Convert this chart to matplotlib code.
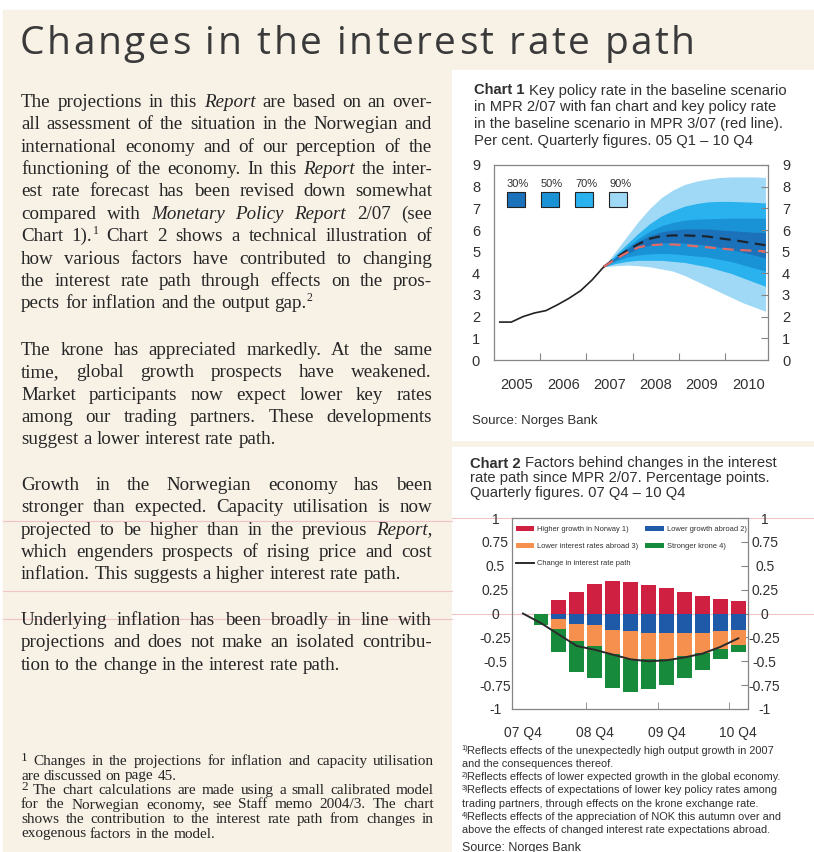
import matplotlib
matplotlib.use('Agg')
import matplotlib.pyplot as plt
import numpy as np
from matplotlib.patches import Rectangle

plt.rcParams['axes.unicode_minus'] = False
plt.rcParams['font.family'] = ['Liberation Sans', 'DejaVu Sans']

W, H = 814, 852
CREAM = '#f7f1e6'
INK = '#262626'
CINK = '#303030'
SPINE = '#858585'
PINK = '#f0c3c7'

# ---------------- page text ----------------
title = 'Changes in the interest rate path'

# '*word*' = italic, 'word^1' = superscript after word
para1 = [
    'The projections in this *Report* are based on an over-',
    'all assessment of the situation in the Norwegian and',
    'international economy and of our perception of the',
    'functioning of the economy. In this *Report* the inter-',
    'est rate forecast has been revised down somewhat',
    'compared with *Monetary* *Policy* *Report* 2/07 (see',
    'Chart 1).^1 Chart 2 shows a technical illustration of',
    'how various factors have contributed to changing',
    'the interest rate path through effects on the pros-',
    'pects for inflation and the output gap.^2',
]
para2 = [
    'The krone has appreciated markedly. At the same',
    'time, global growth prospects have weakened.',
    'Market participants now expect lower key rates',
    'among our trading partners. These developments',
    'suggest a lower interest rate path.',
]
para3 = [
    'Growth in the Norwegian economy has been',
    'stronger than expected. Capacity utilisation is now',
    'projected to be higher than in the previous *Report,*',
    'which engenders prospects of rising price and cost',
    'inflation. This suggests a higher interest rate path.',
]
para4 = [
    'Underlying inflation has been broadly in line with',
    'projections and does not make an isolated contribu-',
    'tion to the change in the interest rate path.',
]
footnotes = [
    ('1', 'Changes in the projections for inflation and capacity utilisation'),
    ('', 'are discussed on page 45.'),
    ('2', 'The chart calculations are made using a small calibrated model'),
    ('', 'for the Norwegian economy, see Staff memo 2004/3. The chart'),
    ('', 'shows the contribution to the interest rate path from changes in'),
    ('', 'exogenous factors in the model.'),
]

chart1_title = [
    'Key policy rate in the baseline scenario',
    'in MPR 2/07 with fan chart and key policy rate',
    'in the baseline scenario in MPR 3/07 (red line).',
    'Per cent. Quarterly figures. 05 Q1 \u2013 10 Q4',
]
chart2_title = [
    'Factors behind changes in the interest',
    'rate path since MPR 2/07. Percentage points.',
    'Quarterly figures. 07 Q4 \u2013 10 Q4',
]
chart2_notes = [
    ('1)', 'Reflects effects of the unexpectedly high output growth in 2007'),
    ('', 'and the consequences thereof.'),
    ('2)', 'Reflects effects of lower expected growth in the global economy.'),
    ('3)', 'Reflects effects of expectations of lower key policy rates among'),
    ('', 'trading partners, through effects on the krone exchange rate.'),
    ('4)', 'Reflects effects of the appreciation of NOK this autumn over and'),
    ('', 'above the effects of changed interest rate expectations abroad.'),
]

# ---------------- chart 1 data ----------------
hist_q = ['05 Q1', '05 Q2', '05 Q3', '05 Q4', '06 Q1', '06 Q2', '06 Q3', '06 Q4',
          '07 Q1', '07 Q2']
hist_rate = [1.75, 1.75, 2.0, 2.17, 2.28, 2.55, 2.85, 3.2, 3.7, 4.3]

fan_q = ['07 Q2', '07 Q3', '07 Q4', '08 Q1', '08 Q2', '08 Q3', '08 Q4', '09 Q1',
         '09 Q2', '09 Q3', '09 Q4', '10 Q1', '10 Q2', '10 Q3', '10 Q4']
mpr207 = [4.3, 4.7, 5.05, 5.35, 5.6, 5.72, 5.75, 5.75, 5.73, 5.7, 5.62, 5.55, 5.47, 5.38, 5.3]
mpr307 = [4.3, 4.65, 4.95, 5.2, 5.3, 5.33, 5.33, 5.3, 5.25, 5.2, 5.15, 5.1, 5.07, 5.04, 5.02]
up90 = [4.3, 5.0, 5.7, 6.4, 7.0, 7.5, 7.85, 8.1, 8.25, 8.35, 8.42, 8.45, 8.45, 8.45, 8.43]
lo90 = [4.3, 4.35, 4.38, 4.35, 4.3, 4.2, 4.1, 3.9, 3.65, 3.4, 3.15, 2.9, 2.65, 2.45, 2.25]
up70 = [4.3, 4.85, 5.35, 5.85, 6.3, 6.65, 6.9, 7.1, 7.22, 7.3, 7.32, 7.32, 7.3, 7.28, 7.25]
lo70 = [4.3, 4.45, 4.55, 4.6, 4.6, 4.6, 4.55, 4.5, 4.4, 4.3, 4.15, 4.0, 3.8, 3.6, 3.4]
up50 = [4.3, 4.75, 5.2, 5.6, 5.95, 6.2, 6.35, 6.45, 6.5, 6.52, 6.53, 6.55, 6.55, 6.55, 6.54]
lo50 = [4.3, 4.55, 4.75, 4.85, 4.9, 4.92, 4.9, 4.85, 4.8, 4.75, 4.65, 4.55, 4.4, 4.25, 4.1]
up30 = [4.3, 4.72, 5.12, 5.47, 5.75, 5.92, 6.0, 6.05, 6.05, 6.05, 6.0, 5.97, 5.93, 5.9, 5.88]
lo30 = [4.3, 4.62, 4.9, 5.15, 5.3, 5.4, 5.42, 5.4, 5.35, 5.3, 5.2, 5.1, 4.98, 4.85, 4.7]
fan_labels = ['30%', '50%', '70%', '90%']
fan_colors = ['#1b72ba', '#1a92d6', '#2ab2ee', '#a0d9f5']
years = [2005, 2006, 2007, 2008, 2009, 2010]

# ---------------- chart 2 data ----------------
q2 = ['07 Q4', '08 Q1', '08 Q2', '08 Q3', '08 Q4', '09 Q1', '09 Q2', '09 Q3',
      '09 Q4', '10 Q1', '10 Q2', '10 Q3', '10 Q4']
norway = [0, 0, 0.14, 0.23, 0.31, 0.34, 0.33, 0.30, 0.27, 0.23, 0.18, 0.15, 0.13]
abroad = [0, 0, -0.06, -0.105, -0.125, -0.17, -0.185, -0.20, -0.20, -0.20, -0.20, -0.185, -0.17]
rates = [0, 0, -0.10, -0.185, -0.215, -0.25, -0.295, -0.28, -0.28, -0.25, -0.21, -0.185, -0.165]
krone = [0, -0.12, -0.24, -0.32, -0.34, -0.36, -0.34, -0.31, -0.27, -0.23, -0.18, -0.11, -0.065]
path = [0, -0.10, -0.22, -0.34, -0.38, -0.43, -0.48, -0.50, -0.49, -0.46, -0.42, -0.35, -0.26]
yticks2 = [-1, -0.75, -0.5, -0.25, 0, 0.25, 0.5, 0.75, 1]
ylabels2 = ['-1', '-0.75', '-0.5', '-0.25', '0', '0.25', '0.5', '0.75', '1']


def qx(lbl):
    yy, q = lbl.split(' Q')
    return 2000 + int(yy) + (int(q) - 0.5) / 4


fig = plt.figure(figsize=(W / 100, H / 100), dpi=100)
fig.patch.set_facecolor('white')

# page background in pixel coordinates
bg = fig.add_axes([0, 0, 1, 1])
bg.set_xlim(0, W)
bg.set_ylim(H, 0)
bg.axis('off')
bg.add_patch(Rectangle((3, 10), W - 3, H - 10, color=CREAM, zorder=0))
bg.add_patch(Rectangle((452, 70), W - 452, 370, color='white', zorder=1))
bg.add_patch(Rectangle((452, 447), W - 452, H - 447, color='white', zorder=1))
for yy in (520.7, 590.7, 619):
    bg.plot([3, 452], [yy, yy], color=PINK, lw=0.8, zorder=2)
for yy in (518, 614):
    bg.plot([452, W], [yy, yy], color=PINK, lw=0.8, zorder=2)

renderer = fig.canvas.get_renderer()


def measure(s, **kw):
    t = bg.text(0, 0, s, **kw)
    w = t.get_window_extent(renderer).width
    t.remove()
    return w


def draw_line(line, x0, x1, y, size, justify, family='Liberation Serif', color=INK):
    base = dict(fontsize=size, family=family, color=color, zorder=5)
    sup_kw = dict(base, fontsize=size * 0.62)
    toks = []
    for raw in line.split(' '):
        italic = raw.startswith('*')
        word = raw.replace('*', '')
        sup = ''
        if '^' in word:
            word, sup = word.split('^')
        kw = dict(base, style='italic' if italic else 'normal')
        toks.append((word, sup, kw, measure(word, **kw),
                     measure(sup, **sup_kw) if sup else 0))
    space = measure('a a', **base) - measure('aa', **base)
    total = sum(t[3] + t[4] for t in toks)
    if justify and len(toks) > 1:
        gap = (x1 - x0 - total) / (len(toks) - 1)
    else:
        gap = space
    x = x0
    for word, sup, kw, w, ws in toks:
        bg.text(x, y, word, va='baseline', ha='left', **kw)
        x += w
        if sup:
            bg.text(x + 0.5, y - size * 0.55, sup, va='baseline', ha='left', **sup_kw)
            x += ws
        x += gap


def draw_para(lines, y0, step, x0=21, x1=432, size=13.7):
    for i, ln in enumerate(lines):
        draw_line(ln, x0, x1, y0 + i * step, size, justify=(i < len(lines) - 1))


# title: letter-spaced like the printed heading
tkw = dict(family='Open Sans', fontsize=28, color='#3a3a3a', zorder=5)
natural = measure(title, **tkw)
track = (675 - natural) / (len(title) - 1)
lw_ = measure('l', **tkw)
for k, ch in enumerate(title):
    if ch == ' ':
        continue
    pos = measure(title[:k] + 'l', **tkw) - lw_ if k else 0
    bg.text(20 + pos + k * track, 54, ch, va='baseline', ha='left', **tkw)

draw_para(para1, 106.7, 22.4)
draw_para(para2, 355, 22.3)
draw_para(para3, 490, 22.3)
draw_para(para4, 625, 22.3)

for i, (sup, ln) in enumerate(footnotes):
    y = 765 + i * 14.5
    last = i == len(footnotes) - 1 or footnotes[i + 1][0] != ''
    if sup:
        bg.text(21, y - 4, sup, fontsize=9.5, family='Liberation Serif', color=INK,
                va='baseline', zorder=5)
        draw_line(ln, 33, 434, y, 11.0, justify=not last)
    else:
        draw_line(ln, 21, 434, y, 11.0, justify=not last)


# chart titles
def chart_title(num, lines, x0, y0, step, size=10.6):
    bkw = dict(fontsize=size, family='Liberation Sans', color=CINK, zorder=5)
    head = 'Chart %d' % num
    bg.text(x0, y0, head, weight='bold', va='baseline', **bkw)
    wb = measure(head, weight='bold', **bkw) + measure('a a', **bkw) - measure('aa', **bkw)
    for i, ln in enumerate(lines):
        bg.text(x0 + (wb if i == 0 else 0), y0 + i * step, ln, va='baseline', **bkw)


chart_title(1, chart1_title, 474, 94.5, 16.7)
chart_title(2, chart2_title, 470.5, 467.5, 14.8)

bg.text(472, 424, 'Source: Norges Bank', fontsize=9.5, color=CINK, va='baseline', zorder=5)
for i, (sup, ln) in enumerate(chart2_notes):
    y = 753.5 + i * 13.33
    if sup:
        bg.text(461.5, y - 3.5, sup, fontsize=5.2, color=CINK, va='baseline', zorder=5)
        bg.text(467, y, ln, fontsize=7.9, color=CINK, va='baseline', zorder=5)
    else:
        bg.text(461.5, y, ln, fontsize=7.9, color=CINK, va='baseline', zorder=5)
bg.text(461.5, 850.5, 'Source: Norges Bank', fontsize=9.0, color=CINK, va='baseline', zorder=5)

# ---------------- chart 1 ----------------
ax1 = fig.add_axes([494 / W, 1 - 360 / H, (768 - 494) / W, (360 - 165) / H])
ax1.set_facecolor('white')
fx = [qx(q) for q in fan_q]
bands = [(lo90, up90), (lo70, up70), (lo50, up50), (lo30, up30)]
for (lo, up), c in zip(bands, fan_colors[::-1]):
    ax1.fill_between(fx, lo, up, color=c, lw=0, zorder=1)
ax1.plot([qx(q) for q in hist_q], hist_rate, color='#222222', lw=1.2, zorder=3)
ax1.plot(fx, mpr207, color='#1c2430', lw=1.6, ls=(0, (5, 3)), zorder=4)
ax1.plot(fx, mpr307, color='#e06a66', lw=1.6, ls=(0, (5, 3)), zorder=4)

ax1.set_xlim(2005.0, 2010.93)
ax1.set_ylim(0, 9)
ax1.set_yticks(range(10))
ax1.tick_params(axis='y', left=False, right=True, labelleft=True, labelright=True,
                direction='in', length=5, pad=10, labelsize=10.5, colors=SPINE,
                labelcolor=CINK)
ax1.set_xticks(years[1:])
ax1.set_xticklabels([])
ax1.set_xticks([y + 0.5 for y in years], minor=True)
ax1.set_xticklabels([str(y) for y in years], minor=True)
ax1.tick_params(axis='x', which='major', direction='in', length=5, colors=SPINE)
ax1.tick_params(axis='x', which='minor', length=0, pad=13, labelsize=10.5,
                labelcolor=CINK)
for s in ax1.spines.values():
    s.set_color(SPINE)
    s.set_linewidth(0.9)

# fan legend: labels above swatches
for i, (lab, c) in enumerate(zip(fan_labels, fan_colors)):
    x0 = 0.047 + i * 0.1245
    ax1.add_patch(Rectangle((x0, 0.785), 0.066, 0.077, transform=ax1.transAxes,
                            facecolor=c, edgecolor='#222222', lw=0.8, zorder=6))
    ax1.text(x0 + 0.04, 0.905, lab, transform=ax1.transAxes, ha='center', va='center',
             fontsize=8, color=CINK, zorder=6)

# ---------------- chart 2 ----------------
ax2 = fig.add_axes([512 / W, 1 - 709 / H, (748 - 512) / W, (709 - 518) / H])
ax2.set_facecolor('none')
x2 = np.arange(len(q2))
neg1 = np.array(abroad)
neg2 = neg1 + np.array(rates)
bw = 0.82
b_nor = ax2.bar(x2, norway, bw, color='#cf2042', zorder=2)
b_abr = ax2.bar(x2, abroad, bw, color='#1f5aa8', zorder=2)
b_rat = ax2.bar(x2, rates, bw, bottom=neg1, color='#f6904f', zorder=2)
b_kro = ax2.bar(x2, krone, bw, bottom=neg2, color='#188a3c', zorder=2)
ln_path, = ax2.plot(x2, path, color='#2b2b2b', lw=1.4, zorder=3)

ax2.set_xlim(-0.61, 12.54)
ax2.set_ylim(-1, 1)
ax2.set_yticks(yticks2)
ax2.set_yticklabels(ylabels2)
ax2.tick_params(axis='y', left=False, right=True, labelleft=True, labelright=True,
                direction='in', length=5, pad=12, labelsize=10, colors=SPINE,
                labelcolor=CINK)
for lab in ax2.get_yticklabels():
    lab.set_ha('center')
ax2.set_xticks(x2[::4])
ax2.set_xticklabels(q2[::4])
ax2.set_xticks([3.5, 7.5, 11.5], minor=True)
ax2.tick_params(axis='x', which='major', length=0, pad=12, labelsize=10, labelcolor=CINK)
ax2.tick_params(axis='x', which='minor', direction='in', length=5, colors=SPINE)
for s in ax2.spines.values():
    s.set_color(SPINE)
    s.set_linewidth(0.9)

leg = ax2.legend([b_nor, b_rat, ln_path, b_abr, b_kro],
                 ['Higher growth in Norway 1)', 'Lower interest rates abroad 3)',
                  'Change in interest rate path', 'Lower growth abroad 2)',
                  'Stronger krone 4)'],
                 ncol=2, loc='upper left', bbox_to_anchor=(0.015, 0.958), frameon=False,
                 fontsize=5.4, handlelength=2.5, handleheight=0.6, handletextpad=0.4,
                 columnspacing=0.9, labelspacing=1.35, borderaxespad=0, borderpad=0)
for t in leg.get_texts():
    t.set_color(CINK)

fig.savefig('out.png', dpi=100, facecolor='white')
